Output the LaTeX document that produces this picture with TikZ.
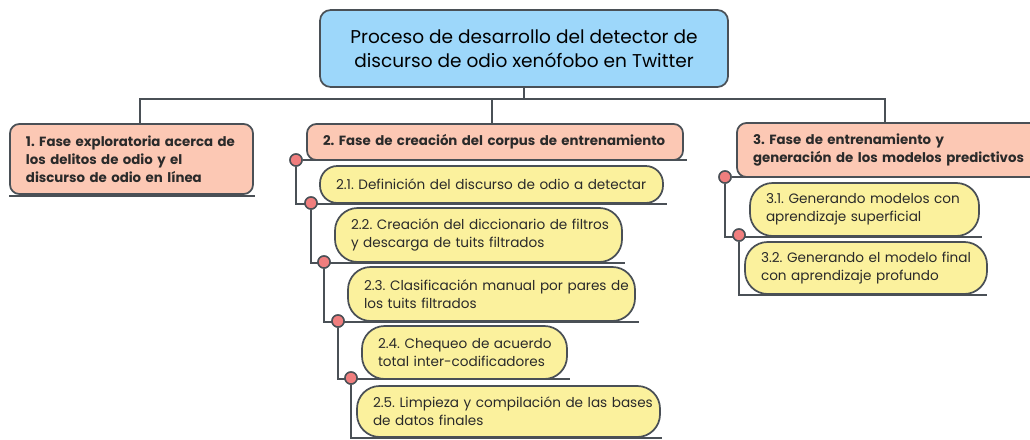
\documentclass[tikz,border=0pt]{standalone}
\usepackage{fontspec}
\setmainfont{Poppins}
\definecolor{linec}{HTML}{4A5056}
\definecolor{titlefill}{HTML}{9DD7FA}
\definecolor{salmon}{HTML}{FCC8B4}
\definecolor{yell}{HTML}{FBF19D}
\definecolor{dotc}{HTML}{F07E7E}
\definecolor{txt}{HTML}{2A2A2A}
\begin{document}
\begin{tikzpicture}[x=0.75pt,y=-0.75pt,
  ln/.style={draw=linec,line width=1.3pt},
  base/.style={draw=linec,line width=1.3pt,inner xsep=12pt,inner ysep=0pt,align=left,text=txt},
  titlebox/.style={base,fill=titlefill,rounded corners=8pt,align=center,font=\frenchspacing\fontsize{13.9}{18}\selectfont,text=black},
  phase/.style={base,fill=salmon,rounded corners=7pt,font=\frenchspacing\bfseries\fontsize{10}{13.5}\selectfont},
  sub/.style={base,fill=yell,rounded corners=17pt,font=\frenchspacing\fontsize{10.2}{13.6}\selectfont},
  dot/.style={circle,draw=linec,line width=1.1pt,fill=dotc,minimum size=9pt,inner sep=0pt}]
\useasboundingbox (0,0) rectangle (1030,439);
\clip (0,0) rectangle (1030,439);
\fill[white] (0,0) rectangle (1030,439);
% boxes
\node[titlebox,minimum width={408*0.75pt},minimum height={77*0.75pt}] (title) at (524,48.5)
  {Proceso de desarrollo del detector de\\discurso de odio xenófobo en Twitter};
\node[phase,minimum width={243*0.75pt},minimum height={70*0.75pt},text width={(243-32)*0.75pt}] (p1) at (131.5,159)
  {\mbox{1. Fase exploratoria acerca de}\\\mbox{los delitos de odio y el}\\\mbox{discurso de odio en línea}};
\node[phase,minimum width={376*0.75pt},minimum height={36*0.75pt},text width={(376-32)*0.75pt}] (p2) at (495,142)
  {\mbox{2. Fase de creación del corpus de entrenamiento}};
\node[phase,minimum width={308*0.75pt},minimum height={54*0.75pt},text width={(308-32)*0.75pt}] (p3) at (891,150)
  {\mbox{3. Fase de entrenamiento y}\\\mbox{generación de los modelos predictivos}};
\node[sub,rounded corners=13pt,minimum width={343*0.75pt},minimum height={37*0.75pt},text width={(343-32)*0.75pt}] (s21) at (491.5,184.5)
  {\mbox{2.1. Definición del discurso de odio a detectar}};
\node[sub,minimum width={287*0.75pt},minimum height={54*0.75pt},text width={(287-32)*0.75pt}] (s22) at (478.5,235)
  {\mbox{2.2. Creación del diccionario de filtros}\\\mbox{y descarga de tuits filtrados}};
\node[sub,minimum width={287*0.75pt},minimum height={54*0.75pt},text width={(287-32)*0.75pt}] (s23) at (491.5,294)
  {\mbox{2.3. Clasificación manual por pares de}\\\mbox{los tuits filtrados}};
\node[sub,minimum width={205*0.75pt},minimum height={53*0.75pt},text width={(205-32)*0.75pt}] (s24) at (464.5,352.5)
  {\mbox{2.4. Chequeo de acuerdo}\\\mbox{total inter-codificadores}};
\node[sub,minimum width={303*0.75pt},minimum height={51*0.75pt},text width={(303-32)*0.75pt}] (s25) at (508.5,411.5)
  {\mbox{2.5. Limpieza y compilación de las bases}\\\mbox{de datos finales}};
\node[sub,minimum width={229*0.75pt},minimum height={53*0.75pt},text width={(229-32)*0.75pt}] (s31) at (864.5,209.5)
  {\mbox{3.1. Generando modelos con}\\\mbox{aprendizaje superficial}};
\node[sub,minimum width={242*0.75pt},minimum height={52*0.75pt},text width={(242-32)*0.75pt}] (s32) at (866,268)
  {\mbox{3.2. Generando el modelo final}\\\mbox{con aprendizaje profundo}};
% bus coordinates
\coordinate (busL) at (140,99);
\coordinate (busM) at (492,99);
\coordinate (busR) at (885,99);
\draw[ln] (title.south) -- (title.south |- busL);
\draw[ln] (p1.north -| busL) -- (busL) -- (busR) -- (p3.north -| busR);
\draw[ln] (busM) -- (p2.north -| busM);
% underline of phase 1
\coordinate (u1) at (255,196);
\draw[ln] (p1.south west |- u1) -- (u1);
% dots
\node[dot] (c21) at (296,160) {};
\node[dot] (c22) at (311,203) {};
\node[dot] (c23) at (324,262) {};
\node[dot] (c24) at (338,321) {};
\node[dot] (c25) at (351,378) {};
\node[dot] (c31) at (725,177) {};
\node[dot] (c32) at (739,235) {};
% end coordinates of underlines
\coordinate (e2) at (687,160);
\coordinate (e21) at (667,204);
\coordinate (e22) at (625,263);
\coordinate (e23) at (639,322);
\coordinate (e24) at (570,379);
\coordinate (e25) at (662,438);
\coordinate (e3) at (1040,177);
\coordinate (e31) at (982,237);
\coordinate (e32) at (987,295);
\draw[ln] (c21) -- (e2);
\draw[ln] (c21) -- (c21 |- e21) -- (e21);
\draw[ln] (c22) -- (c22 |- e22) -- (e22);
\draw[ln] (c23) -- (c23 |- e23) -- (e23);
\draw[ln] (c24) -- (c24 |- e24) -- (e24);
\draw[ln] (c25) -- (c25 |- e25) -- (e25);
\draw[ln] (c31) -- (e3);
\draw[ln] (c31) -- (c31 |- e31) -- (e31);
\draw[ln] (c32) -- (c32 |- e32) -- (e32);
% dots on top
\foreach \c in {c21,c22,c23,c24,c25,c31,c32}
  \fill[dotc,draw=linec,line width=1.1pt] (\c) circle[radius=4.5pt];
\end{tikzpicture}
\end{document}
